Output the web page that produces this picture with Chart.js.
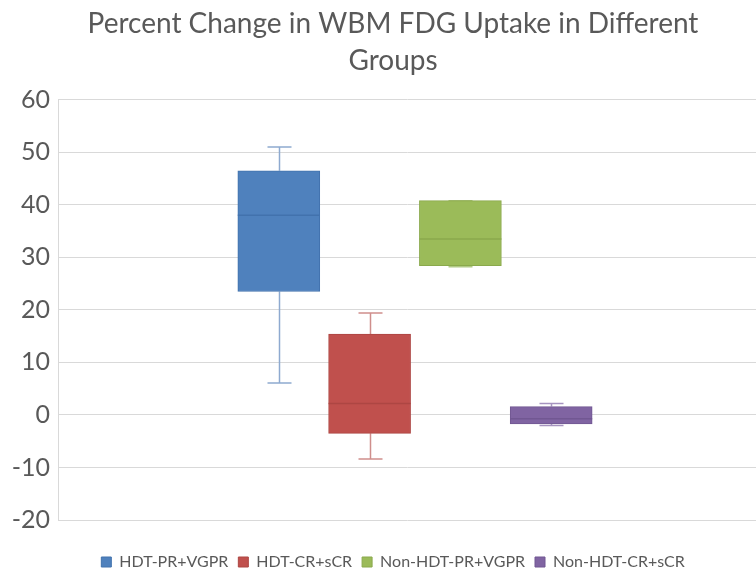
<!DOCTYPE html>
<html>
<head>
<meta charset="utf-8">
<script src="https://cdn.jsdelivr.net/npm/chart.js@4/dist/chart.umd.min.js"></script>
<style>
  html, body { margin: 0; padding: 0; background: #fff; }
  #wrap { width: 756px; height: 571px; }
</style>
</head>
<body>
<div id="wrap"><canvas id="boxCtx"></canvas></div>
<script>
// box plot values
var groups = ['HDT-PR+VGPR', 'HDT-CR+sCR', 'Non-HDT-PR+VGPR', 'Non-HDT-CR+sCR']
var whiskerMin = [6.1, -8.4, 28.2, -2.0]
var q1 = [23.5, -3.5, 28.4, -1.7]
var median = [38.0, 2.2, 33.5, -0.7]
var q3 = [46.5, 15.4, 40.8, 1.6]
var whiskerMax = [51.0, 19.4, 40.8, 2.2]
var yTicks = [60, 50, 40, 30, 20, 10, 0, -10, -20]

var fillColors = ['#4f81bd', '#c0504d', '#9bbb59', '#8064a2']
var edgeColors = ['#4272ad', '#ad4643', '#8aa94c', '#715792']
var whiskerColors = ['#8eaad0', '#cf8e8c', '#b0c985', '#a694c0']

Chart.defaults.font.family = 'Lato'
Chart.defaults.color = '#595959'

// whiskers go under the boxes, medians on top
var boxPlotLines = {
    id: 'boxPlotLines',
    beforeDatasetsDraw: function(chart) {
        var ctx = chart.ctx
        var y = chart.scales.y
        ctx.save()
        chart.data.datasets.forEach(function(ds, i) {
            var bar = chart.getDatasetMeta(i).data[0]
            if (!bar) return
            var cx = Math.round(bar.x) + 0.5
            var cap = 12
            ctx.strokeStyle = whiskerColors[i]
            ctx.lineWidth = 1.5
            ctx.beginPath()
            ctx.moveTo(cx, y.getPixelForValue(whiskerMax[i]))
            ctx.lineTo(cx, y.getPixelForValue(q3[i]))
            ctx.moveTo(cx, y.getPixelForValue(whiskerMin[i]))
            ctx.lineTo(cx, y.getPixelForValue(q1[i]))
            ctx.moveTo(cx - cap, y.getPixelForValue(whiskerMax[i]))
            ctx.lineTo(cx + cap, y.getPixelForValue(whiskerMax[i]))
            ctx.moveTo(cx - cap, y.getPixelForValue(whiskerMin[i]))
            ctx.lineTo(cx + cap, y.getPixelForValue(whiskerMin[i]))
            ctx.stroke()
        })
        ctx.restore()
    },
    afterDatasetsDraw: function(chart) {
        var ctx = chart.ctx
        var y = chart.scales.y
        ctx.save()
        chart.data.datasets.forEach(function(ds, i) {
            var bar = chart.getDatasetMeta(i).data[0]
            if (!bar) return
            var my = y.getPixelForValue(median[i])
            ctx.strokeStyle = edgeColors[i]
            ctx.lineWidth = 1.5
            ctx.beginPath()
            ctx.moveTo(bar.x - bar.width / 2, my)
            ctx.lineTo(bar.x + bar.width / 2, my)
            ctx.stroke()
        })
        ctx.restore()
    }
}

var datasets = groups.map(function(name, i) {
    return {
        label: name,
        data: [{x: i + 1, y: [q1[i], q3[i]]}],
        backgroundColor: fillColors[i],
        borderColor: edgeColors[i],
        borderWidth: 1,
        borderSkipped: false,
        grouped: false,
        maxBarThickness: 82,
        barPercentage: 1,
        categoryPercentage: 1
    }
})

new Chart(document.getElementById('boxCtx'), {
    type: 'bar',
    data: { datasets: datasets },
    plugins: [boxPlotLines],
    options: {
        responsive: true,
        maintainAspectRatio: false,
        animation: false,
        // negative right/bottom padding shifts title + legend centre like the original
        layout: { padding: { left: 0, right: -30, top: 0, bottom: -9 } },
        plugins: {
            title: {
                display: true,
                text: ['Percent Change in WBM FDG Uptake in Different', 'Groups'],
                font: { size: 28, weight: 'normal', lineHeight: 1.3 },
                color: '#595959',
                padding: { top: 6, bottom: 21 }
            },
            legend: {
                position: 'bottom',
                labels: {
                    boxWidth: 10,
                    boxHeight: 10,
                    padding: 10,
                    font: { size: 16 },
                    color: '#595959'
                }
            },
            tooltip: { enabled: false }
        },
        scales: {
            x: {
                type: 'linear',
                offset: false,
                min: -1.432,
                max: 6.256,
                afterFit: function(scale) { scale.height = 24 },
                grid: { display: false },
                border: { display: false },
                ticks: { display: false, stepSize: 1, includeBounds: false }
            },
            y: {
                min: -20,
                max: 60,
                afterFit: function(scale) { scale.width = 58 },
                afterBuildTicks: function(scale) {
                    scale.ticks = yTicks.slice().reverse().map(function(v) { return {value: v} })
                },
                grid: { color: '#d9d9d9', lineWidth: 1, drawTicks: false },
                border: { color: '#d9d9d9' },
                ticks: { padding: 8, font: { size: 25 }, color: '#595959' }
            }
        }
    }
})
</script>
</body>
</html>
